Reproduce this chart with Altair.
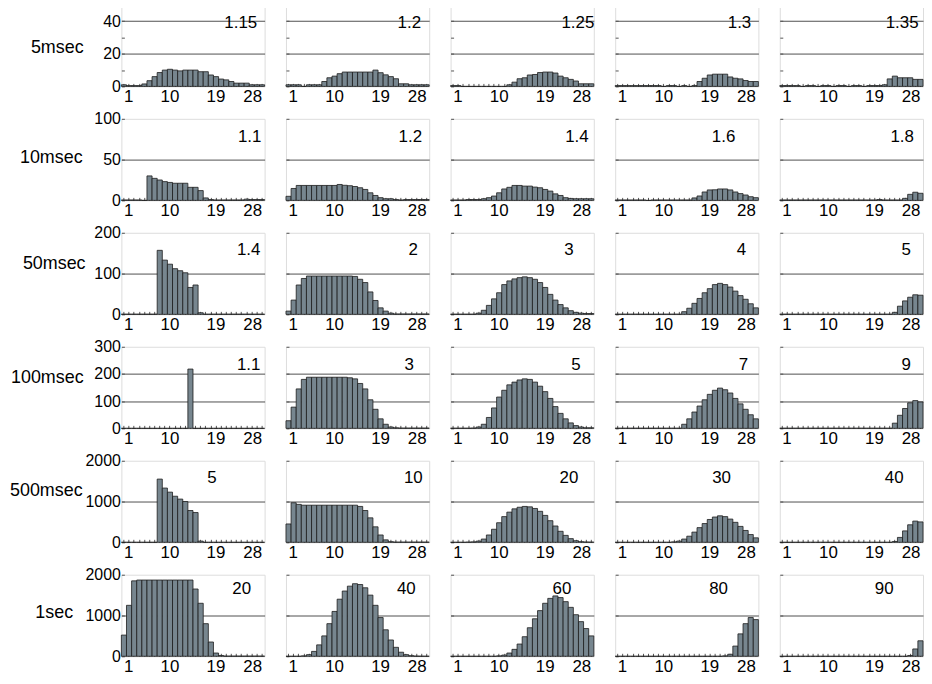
import altair as alt
import pandas as pd

FONT = "Liberation Sans"

# ---------------- data ----------------
BINS = list(range(1, 29))
X_LABELS = [1, 10, 19, 28]
ROW_LABELS = ["5msec", "10msec", "50msec", "100msec", "500msec", "1sec"]
PANEL_LABELS = [
    ["1.15", "1.2", "1.25", "1.3", "1.35"],
    ["1.1", "1.2", "1.4", "1.6", "1.8"],
    ["1.4", "2", "3", "4", "5"],
    ["1.1", "3", "5", "7", "9"],
    ["5", "10", "20", "30", "40"],
    ["20", "40", "60", "80", "90"],
]
Y_MAX = [50, 100, 200, 300, 2000, 2000]
Y_TICKS = [[0, 10, 20, 30, 40], [0, 50, 100], [0, 100, 200], [0, 100, 200, 300],
           [0, 1000, 2000], [0, 1000, 2000]]
Y_LABELS = [[0, 20, 40], [0, 50, 100], [0, 100, 200], [0, 100, 200, 300],
            [0, 1000, 2000], [0, 1000, 2000]]
Y_GRID = [[20, 40], [50], [100], [100, 200], [1000], [1000]]

C_5MS = [
    [1, 0.5, 0.5, 0.5, 1.5, 3.5, 6, 8.5, 10, 10.5, 10, 9.5, 10, 10, 10, 9, 9, 7, 6, 4.5, 4, 3, 2, 2, 2, 1, 1, 1],
    [1, 1, 1, 0, 1, 1, 1, 3, 5.3, 6.3, 7.8, 8.8, 8.8, 8.8, 8.8, 8.8, 8.8, 10, 8.4, 7.1, 6, 4.7, 1.6, 1.6, 1, 1, 1, 1],
    [0.5, 0.5, 0, 0, 0, 0, 0, 0, 0, 0, 0, 1, 2.6, 4.7, 5.3, 7, 7.3, 8.5, 8.8, 8.8, 8.2, 6.3, 5.3, 4.3, 3.3, 1.6, 1.6, 1.6],
    [0.5, 0.5, 0.5, 0.5, 0.5, 0.5, 0.5, 0.5, 0.5, 0, 0.5, 0.5, 0, 0.5, 0, 0.5, 3, 5, 7, 7.5, 7.5, 7.5, 5.8, 5, 4.6, 3.6, 3, 3],
    [0.5, 0.5, 0.5, 0.5, 0, 0.5, 0.5, 0, 0.5, 0.5, 0, 0.5, 0.5, 0, 0.5, 0.5, 0, 0.5, 0.5, 0.5, 1, 4.6, 6.3, 5.3, 5.3, 5.3, 4.3, 4.3],
]
C_10MS = [
    [0.5, 0.5, 0.5, 0.5, 0, 30, 27, 25, 23, 22, 21, 21, 21, 16, 16, 12, 3, 1, 0.5, 0.5, 0.5, 0.5, 0.5, 0.5, 1.5, 1, 1, 1],
    [5, 14.6, 18.3, 18.3, 18.3, 18.3, 18.3, 18.3, 18.3, 18.3, 19.5, 18.5, 18, 17, 15.5, 13.4, 9.3, 6, 3.3, 2, 2, 1, 0.5, 1, 1, 1, 1, 1],
    [0.5, 0.5, 0.5, 1, 1, 1, 2, 3.3, 5.3, 9.3, 14, 16, 18.3, 18.3, 17.5, 17.5, 16.3, 15.5, 13.4, 11.4, 8, 6, 3.3, 2.4, 2, 2, 2, 2],
    [0.5, 0.5, 0.5, 0.5, 0.5, 0.5, 0, 0.5, 0.5, 0.5, 0.5, 0.5, 0.5, 0.5, 0.5, 3, 5.4, 10.3, 12.8, 13, 14, 14, 12.8, 10.3, 8.3, 6.6, 4.5, 3.3],
    [0.5, 0.5, 0.5, 0.5, 0.5, 0.5, 0.5, 0.5, 0.5, 0.5, 0.5, 0.5, 0.5, 0.5, 0.5, 0.5, 0.5, 0.5, 0.5, 1, 0.5, 0.5, 0.5, 0.5, 2.5, 7.4, 10, 8.7],
]
C_50MS = [
    [0.5, 0.5, 0.5, 0.5, 0.5, 0.5, 0.5, 157, 133, 123, 112, 107, 102, 66, 72, 4, 0.5, 0.5, 0.5, 0.5, 0.5, 0.5, 0.5, 0.5, 0.5, 0.5, 0.5, 0.5],
    [8, 35, 72, 88, 94, 94, 94, 94, 94, 94, 94, 94, 94, 93, 86, 78, 55, 34, 16, 8, 3, 1, 1, 1, 1, 1, 1, 1],
    [0.5, 0.5, 0.5, 0.5, 0.5, 3, 10, 22, 38, 53, 73, 82, 87, 90, 92, 90, 86, 78, 66, 49, 35, 24, 16, 9, 5, 3, 2, 2],
    [0.5, 0.5, 0.5, 0.5, 0.5, 0.5, 0.5, 0.5, 0.5, 0.5, 0.5, 0.5, 0.5, 6.5, 15, 27, 39, 53, 63, 73, 76, 73, 67, 57, 46, 37, 26, 16],
    [0.5, 0.5, 0.5, 0.5, 0.5, 0.5, 0.5, 0.5, 0.5, 0.5, 0.5, 0.5, 0.5, 0.5, 0.5, 0.5, 0.5, 0.5, 0.5, 0.5, 0.5, 0.5, 5, 20, 33, 42, 48, 47],
]
C_100MS = [
    [0, 0, 0, 0, 0, 0, 0, 0, 0, 0, 0, 0, 0, 218, 0, 0, 0, 0, 0, 0, 0, 0, 0, 0, 0, 0, 0, 0],
    [28, 78, 145, 180, 188, 188, 188, 188, 188, 188, 188, 188, 186, 182, 165, 145, 105, 70, 35, 15, 5, 2, 1, 1, 1, 1, 1, 1],
    [0.5, 0.5, 0.5, 0.5, 1, 5, 15, 40, 75, 115, 140, 160, 170, 178, 182, 180, 170, 155, 135, 110, 80, 55, 35, 20, 10, 5, 2, 2],
    [0.5, 0.5, 0.5, 0.5, 0.5, 0.5, 0.5, 0.5, 0.5, 0.5, 0.5, 0.5, 0.5, 15, 35, 60, 82, 105, 125, 140, 148, 142, 130, 110, 90, 70, 50, 35],
    [0.5, 0.5, 0.5, 0.5, 0.5, 0.5, 0.5, 0.5, 0.5, 0.5, 0.5, 0.5, 0.5, 0.5, 0.5, 0.5, 0.5, 0.5, 0.5, 0.5, 0.5, 0.5, 19, 48, 73, 94, 102, 97],
]
C_500MS = [
    [0, 0, 0, 0, 0, 0, 0, 1550, 1330, 1230, 1130, 1060, 1000, 780, 730, 30, 0, 0, 0, 0, 0, 0, 0, 0, 0, 0, 0, 0],
    [450, 970, 930, 910, 910, 910, 910, 910, 910, 910, 910, 910, 910, 910, 880, 780, 600, 380, 180, 60, 15, 5, 5, 5, 5, 5, 5, 5],
    [0, 0, 0, 5, 10, 30, 80, 180, 320, 480, 630, 740, 820, 860, 880, 870, 830, 760, 660, 530, 400, 270, 170, 90, 40, 15, 8, 5],
    [0, 0, 0, 0, 0, 0, 0, 0, 0, 0, 0, 10, 30, 80, 150, 250, 360, 460, 560, 620, 650, 630, 570, 490, 390, 290, 190, 110],
    [0, 0, 0, 0, 0, 0, 0, 0, 0, 0, 0, 0, 0, 0, 0, 0, 0, 0, 0, 0, 0, 0, 20, 120, 280, 430, 520, 500],
]
C_1S = [
    [520, 1250, 1850, 1870, 1870, 1870, 1870, 1870, 1870, 1870, 1870, 1870, 1870, 1870, 1650, 1300, 800, 350, 80, 20, 5, 5, 5, 5, 5, 5, 5, 5],
    [0, 0, 0, 10, 40, 120, 280, 500, 800, 1100, 1400, 1600, 1720, 1780, 1760, 1680, 1500, 1250, 950, 650, 400, 220, 100, 40, 15, 5, 3, 2],
    [0, 0, 0, 0, 0, 0, 0, 0, 0, 10, 30, 80, 170, 300, 480, 700, 920, 1120, 1300, 1420, 1480, 1440, 1340, 1200, 1020, 850, 680, 500],
    [0, 0, 0, 0, 0, 0, 0, 0, 0, 0, 0, 0, 0, 0, 0, 0, 0, 0, 0, 0, 0, 10, 50, 250, 550, 800, 950, 900],
    [0, 0, 0, 0, 0, 0, 0, 0, 0, 0, 0, 0, 0, 0, 0, 0, 0, 0, 0, 0, 0, 0, 0, 0, 0, 20, 180, 380],
]
COUNTS = [C_5MS, C_10MS, C_50MS, C_100MS, C_500MS, C_1S]

# ---------------- style / layout ----------------
W, H = 144, 82
TITLE_X = [-68, -74, -71, -78, -79, -71]
TITLE_Y = [43, 39, 31, 31, 30, 38]
LABEL_DX = [
    [120, 124, 128, 125, 123],
    [129, 125, 127, 109, 123],
    [128, 128, 119, 127, 127],
    [128, 124, 126, 129, 127],
    [91, 128, 119, 107, 115],
    [121, 121, 112, 104, 105],
]
LABEL_DY = [18, 18, 17, 18, 17, 14]


def js_list(v):
    return "[" + ",".join(str(x) for x in v) + "]"


x_label_expr = f"indexof({js_list(X_LABELS)}, datum.value) >= 0 ? datum.label : ''"

panels = []
for r in range(6):
    for c in range(5):
        df = pd.DataFrame({"bin": BINS, "count": COUNTS[r][c]})
        first = c == 0
        yk = dict(
            values=Y_TICKS[r],
            format="d",
            grid=True,
            gridColor="#505050",
            gridWidth=1,
            gridOpacity={"condition": {"test": f"indexof({js_list(Y_GRID[r])}, datum.value) < 0", "value": 0}, "value": 1},
            domain=False,
            ticks=True,
            tickSize=3,
            tickColor="#555555",
            offset=-3,
            labels=first,
            labelPadding=1,
            labelExpr=f"indexof({js_list(Y_LABELS[r])}, datum.value) >= 0 ? datum.label : ''",
            labelFont=FONT,
            labelFontSize=16,
            labelColor="#000000",
            labelOverlap=False,
        )
        if first:
            yk.update(title=ROW_LABELS[r], titleAngle=0, titleAlign="center", titleBaseline="middle",
                      titleX=TITLE_X[r], titleY=TITLE_Y[r], titleFont=FONT, titleFontSize=18,
                      titleFontWeight="normal", titleColor="#000000")
        else:
            yk.update(title="")

        bars = alt.Chart(df).mark_bar(fill="#77868f", stroke="#1c1c1c", strokeWidth=0.8).encode(
            x=alt.X("bin:O", sort=BINS,
                    scale=alt.Scale(paddingInner=0, paddingOuter=0),
                    axis=alt.Axis(title="", labelAngle=0, labelExpr=x_label_expr, labelFlush=6,
                                  labelOverlap=False, tickSize=3, tickColor="#555555", offset=-3,
                                  domain=False, grid=False, labelPadding=2, labelFont=FONT,
                                  labelFontSize=17, labelColor="#000000")),
            y=alt.Y("count:Q", scale=alt.Scale(domain=[0, Y_MAX[r]], nice=False, zero=True),
                    axis=alt.Axis(**yk)),
        )
        text = alt.Chart(pd.DataFrame({"label": [PANEL_LABELS[r][c]]})).mark_text(
            align="center", baseline="middle", font=FONT, fontSize=17, color="#000000"
        ).encode(
            x=alt.value(LABEL_DX[r][c]),
            y=alt.value(LABEL_DY[r]),
            text="label:N",
        )
        panels.append(alt.layer(bars, text).properties(width=W, height=H))

chart = alt.concat(
    *panels, columns=5, spacing={"row": 32.6, "column": 21.5}, bounds="flush"
).properties(
    padding={"left": 0, "top": -6, "right": 0, "bottom": 0}
).configure_view(
    stroke="#8c8c8c", strokeWidth=1.5
).configure(background="white")

chart.save("out.html", embed_options={"renderer": "svg", "actions": False})
